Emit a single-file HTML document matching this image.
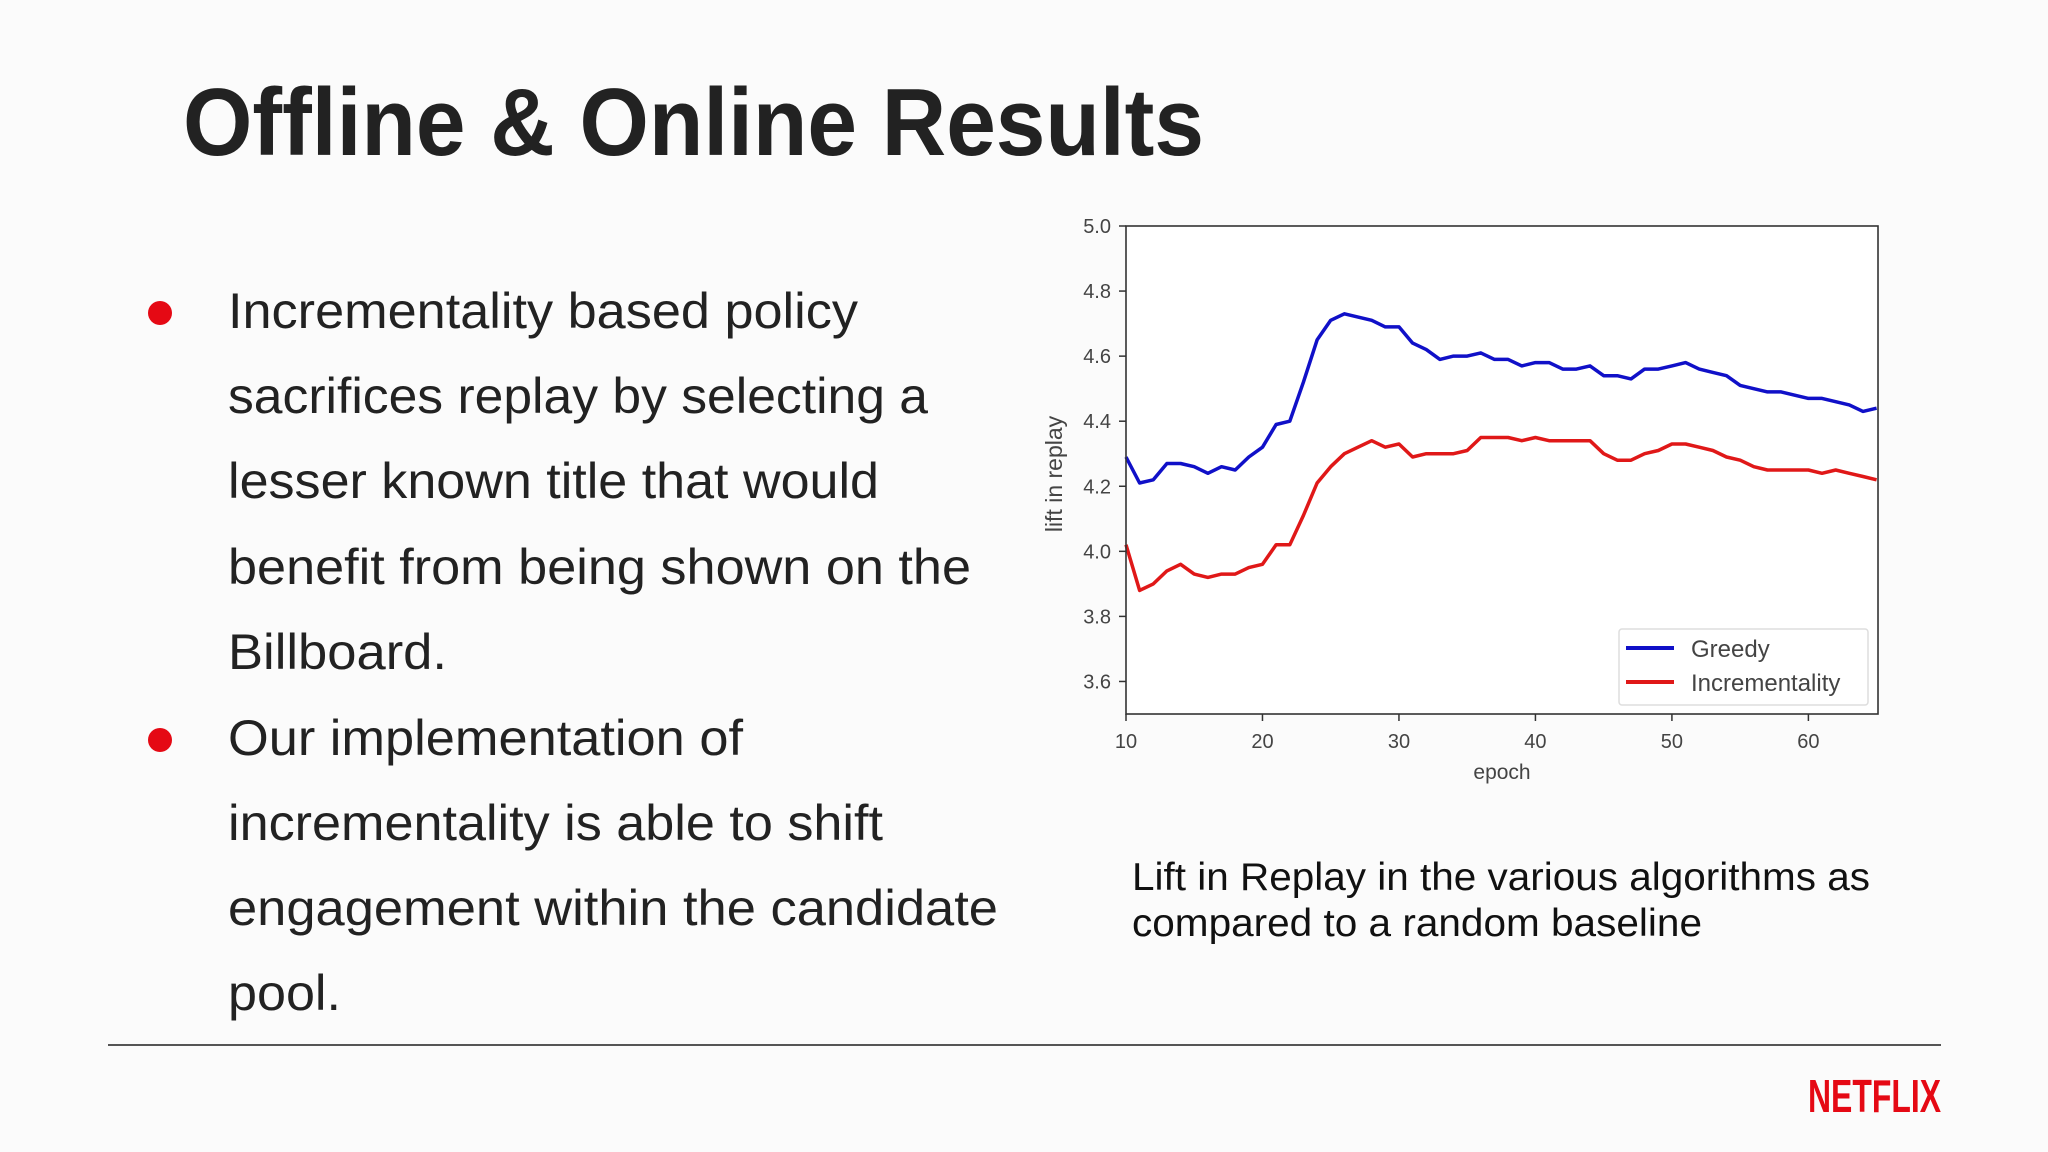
<!DOCTYPE html>
<html><head><meta charset="utf-8"><style>
html,body{margin:0;padding:0;background:#fbfbfb;}
svg{display:block;font-family:"Liberation Sans",sans-serif;}
</style></head><body>
<svg id="s" width="2048" height="1152" viewBox="0 0 2048 1152" xmlns="http://www.w3.org/2000/svg">
<rect width="2048" height="1152" fill="#fbfbfb"/>
<text x="183" y="155" font-size="96" font-weight="bold" fill="#222" textLength="1021" lengthAdjust="spacingAndGlyphs">Offline &amp; Online Results</text>
<g fill="#222" font-size="50">
<circle cx="160" cy="313" r="12" fill="#e50914"/>
<circle cx="160" cy="740" r="12" fill="#e50914"/>
<text x="228" y="328" textLength="630" lengthAdjust="spacingAndGlyphs">Incrementality based policy</text>
<text x="228" y="413" textLength="700" lengthAdjust="spacingAndGlyphs">sacrifices replay by selecting a</text>
<text x="228" y="498" textLength="651" lengthAdjust="spacingAndGlyphs">lesser known title that would</text>
<text x="228" y="584" textLength="743" lengthAdjust="spacingAndGlyphs">benefit from being shown on the</text>
<text x="228" y="669" textLength="219" lengthAdjust="spacingAndGlyphs">Billboard.</text>
<text x="228" y="755" textLength="515" lengthAdjust="spacingAndGlyphs">Our implementation of</text>
<text x="228" y="840" textLength="655" lengthAdjust="spacingAndGlyphs">incrementality is able to shift</text>
<text x="228" y="925" textLength="770" lengthAdjust="spacingAndGlyphs">engagement within the candidate</text>
<text x="228" y="1010" textLength="113" lengthAdjust="spacingAndGlyphs">pool.</text>
</g>
<rect x="1126" y="226" width="752" height="488" fill="#fff"/>
<g id="chart"></g>
<rect x="1126" y="226" width="752" height="488" fill="none" stroke="#333" stroke-width="1.6"/>
<text x="1062" y="474" font-size="23" fill="#444" text-anchor="middle" transform="rotate(-90 1062 474)">lift in replay</text>
<text x="1502" y="779" font-size="21" fill="#444" text-anchor="middle">epoch</text>
<g>
<rect x="1619" y="629" width="249" height="76" fill="#fff" stroke="#ddd" stroke-width="1.5" rx="3"/>
<line x1="1626" y1="648" x2="1674" y2="648" stroke="#1010c8" stroke-width="4"/>
<text x="1691" y="657" font-size="24" fill="#444">Greedy</text>
<line x1="1626" y1="682" x2="1674" y2="682" stroke="#e01818" stroke-width="4"/>
<text x="1691" y="691" font-size="24" fill="#444">Incrementality</text>
</g>
<text x="1132" y="890" font-size="39" fill="#111" textLength="738" lengthAdjust="spacingAndGlyphs">Lift in Replay in the various algorithms as</text>
<text x="1132" y="936" font-size="39" fill="#111" textLength="570" lengthAdjust="spacingAndGlyphs">compared to a random baseline</text>
<line x1="108" y1="1045" x2="1941" y2="1045" stroke="#555" stroke-width="2"/>
<text x="1808" y="1112" font-size="46" font-weight="bold" fill="#e50914" textLength="133" lengthAdjust="spacingAndGlyphs">NETFLIX</text>
</svg>
<script>
const epochs = [10,11,12,13,14,15,16,17,18,19,20,21,22,23,24,25,26,27,28,29,30,31,32,33,34,35,36,37,38,39,40,41,42,43,44,45,46,47,48,49,50,51,52,53,54,55,56,57,58,59,60,61,62,63,64,65];
const greedy = [4.29,4.21,4.22,4.27,4.27,4.26,4.24,4.26,4.25,4.29,4.32,4.39,4.40,4.52,4.65,4.71,4.73,4.72,4.71,4.69,4.69,4.64,4.62,4.59,4.60,4.60,4.61,4.59,4.59,4.57,4.58,4.58,4.56,4.56,4.57,4.54,4.54,4.53,4.56,4.56,4.57,4.58,4.56,4.55,4.54,4.51,4.50,4.49,4.49,4.48,4.47,4.47,4.46,4.45,4.43,4.44];
const incrementality = [4.02,3.88,3.90,3.94,3.96,3.93,3.92,3.93,3.93,3.95,3.96,4.02,4.02,4.11,4.21,4.26,4.30,4.32,4.34,4.32,4.33,4.29,4.30,4.30,4.30,4.31,4.35,4.35,4.35,4.34,4.35,4.34,4.34,4.34,4.34,4.30,4.28,4.28,4.30,4.31,4.33,4.33,4.32,4.31,4.29,4.28,4.26,4.25,4.25,4.25,4.25,4.24,4.25,4.24,4.23,4.22];
const yTicks = [3.6,3.8,4.0,4.2,4.4,4.6,4.8,5.0];
const xTicks = [10,20,30,40,50,60];
const X0=1126,X1=1878,Y0=226,Y1=714, xMin=10,xMax=65.1,yMin=3.5,yMax=5.0;
const xs=v=>X0+(v-xMin)/(xMax-xMin)*(X1-X0);
const ys=v=>Y1-(v-yMin)/(yMax-yMin)*(Y1-Y0);
const NS="http://www.w3.org/2000/svg";
const g=document.getElementById('chart');
function mk(t,a){const e=document.createElementNS(NS,t);for(const k in a)e.setAttribute(k,a[k]);g.appendChild(e);return e;}
yTicks.forEach(v=>{
  const l=mk('line',{x1:X0-7,x2:X0,y1:ys(v),y2:ys(v),stroke:'#333','stroke-width':1.5});
  
  
  const t=mk('text',{x:X0-15,y:ys(v)+7,'font-size':20,fill:'#444','text-anchor':'end'});
  
  
  t.textContent=v.toFixed(1);
});
xTicks.forEach(v=>{
  const l=mk('line',{x1:xs(v),x2:xs(v),y1:Y1,y2:Y1+7,stroke:'#333','stroke-width':1.5});
  
  
  const t=mk('text',{x:xs(v),y:Y1+34,'font-size':20,fill:'#444','text-anchor':'middle'});
  
  
  t.textContent=v;
});
function line(vals,color,name){
  let d='';
  vals.forEach((v,i)=>{d+=(i?'L':'M')+xs(Math.min(epochs[i],xMax)).toFixed(1)+' '+ys(v).toFixed(1);});
  const p=mk('path',{d:d,fill:'none',stroke:color,'stroke-width':3.5,'stroke-linejoin':'round'});
  
  
}
line(greedy,'#1010c8','greedy-line');
line(incrementality,'#e01818','incrementality-line');
</script>
</body></html>
